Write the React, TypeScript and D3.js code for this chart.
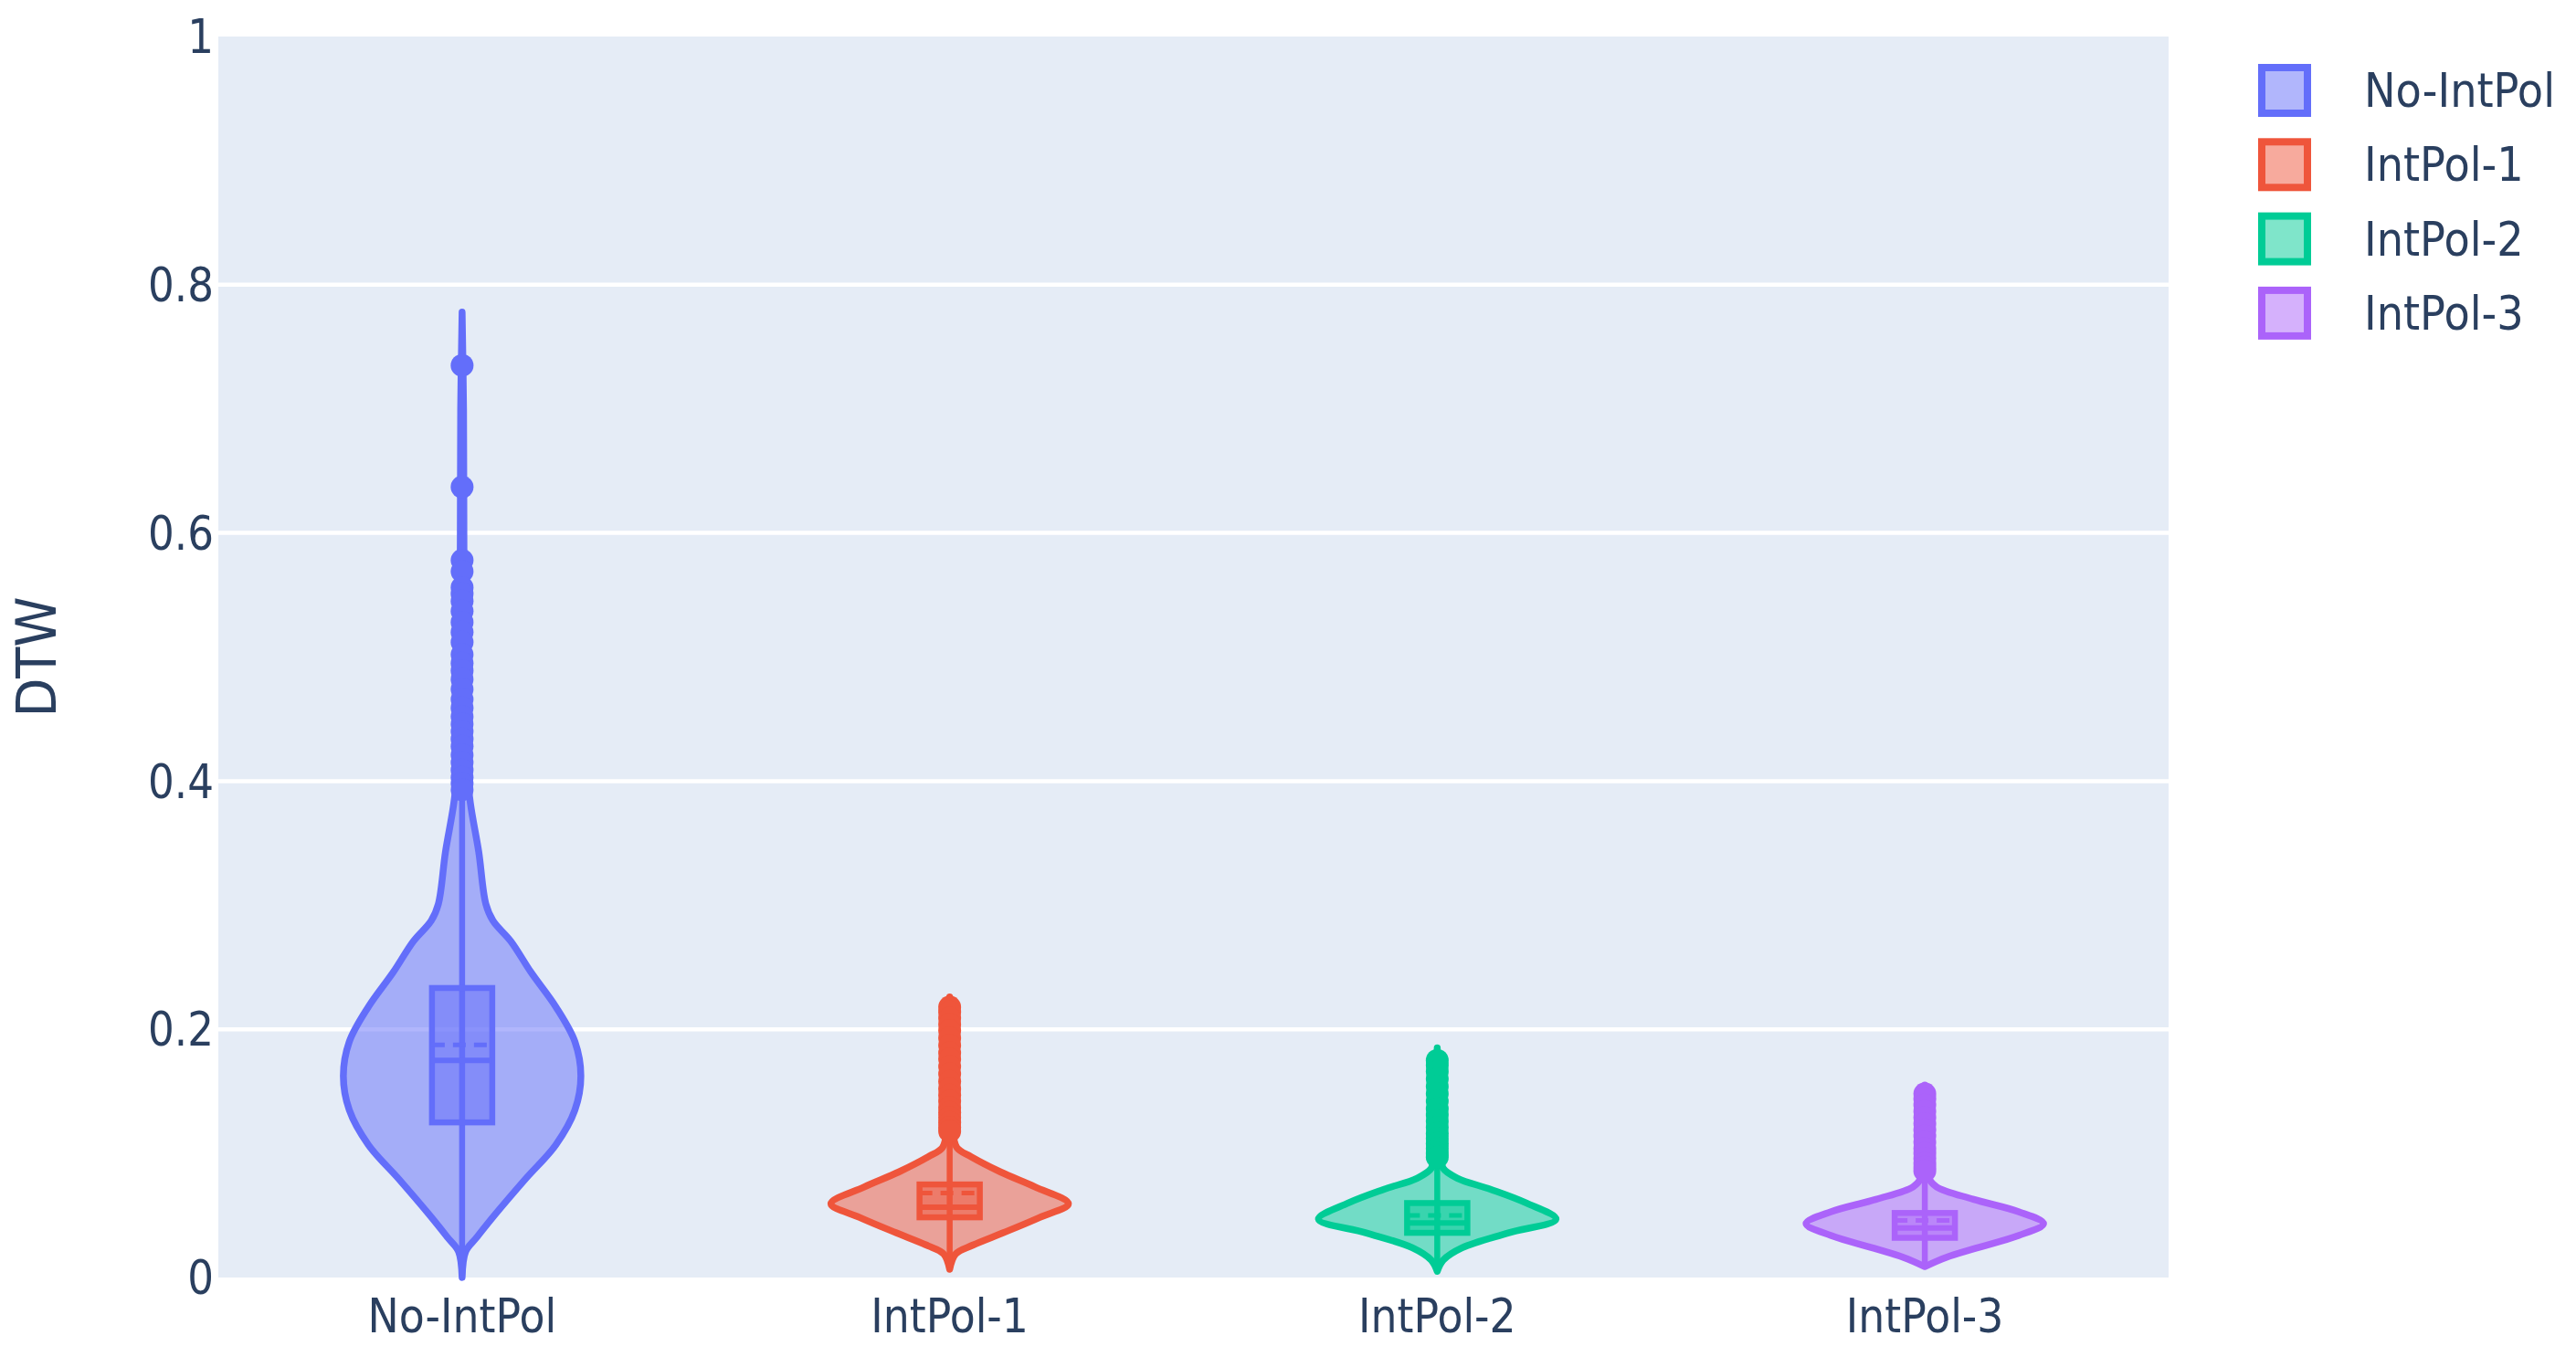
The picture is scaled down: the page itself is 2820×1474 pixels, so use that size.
import React from "react";
import * as d3 from "d3";

const W = 2820;
const H = 1474;

const categories = ["No-IntPol", "IntPol-1", "IntPol-2", "IntPol-3"];
const colors = ["#636efa", "#EF553B", "#00cc96", "#ab63fa"];
const yTicks = [0, 0.2, 0.4, 0.6, 0.8, 1];
const yTickLabels = ["0", "0.2", "0.4", "0.6", "0.8", "1"];

// violin outlines: [value, relative half-width]
const noIntPolProfile: [number, number][] = [
  [0.0, 0.0], [0.021, 0.03], [0.032, 0.12], [0.051, 0.28], [0.079, 0.53], [0.107, 0.79],
  [0.135, 0.95], [0.1625, 1.0], [0.19, 0.95], [0.218, 0.79], [0.246, 0.58], [0.271, 0.41],
  [0.2875, 0.26], [0.301, 0.2], [0.343, 0.14], [0.382, 0.07], [0.42, 0.03], [0.5, 0.02],
  [0.6, 0.015], [0.7, 0.012], [0.778, 0.0],
];
const intPol1Profile: [number, number][] = [
  [0.0066, 0.0], [0.019, 0.05], [0.0263, 0.2], [0.036, 0.45], [0.0485, 0.76], [0.0595, 1.0],
  [0.073, 0.72], [0.085, 0.43], [0.0973, 0.18], [0.1047, 0.06], [0.12, 0.025], [0.17, 0.015],
  [0.226, 0.0],
];
const intPol2Profile: [number, number][] = [
  [0.005, 0.0], [0.014, 0.05], [0.024, 0.21], [0.036, 0.6], [0.047, 1.0], [0.06, 0.75],
  [0.071, 0.45], [0.08, 0.17], [0.088, 0.05], [0.1, 0.025], [0.14, 0.015], [0.185, 0.0],
];
const intPol3Profile: [number, number][] = [
  [0.0088, 0.0], [0.0162, 0.18], [0.0236, 0.43], [0.0338, 0.79], [0.0434, 1.0], [0.053, 0.79],
  [0.063, 0.41], [0.073, 0.1], [0.08, 0.035], [0.1, 0.02], [0.155, 0.0],
];
const profiles = [noIntPolProfile, intPol1Profile, intPol2Profile, intPol3Profile];

const q1s = [0.125, 0.0485, 0.036, 0.032];
const medians = [0.175, 0.0567, 0.044, 0.04];
const means = [0.1875, 0.068, 0.05, 0.046];
const q3s = [0.2333, 0.075, 0.06, 0.052];
const lowerWhiskers = [0.002, 0.008, 0.006, 0.01];
const upperWhiskers = [0.39, 0.114, 0.095, 0.084];

const noIntPolOutliers = [
  0.735, 0.637, 0.578, 0.569, 0.556, 0.551, 0.545, 0.537, 0.528, 0.52, 0.512, 0.502, 0.495,
  0.489, 0.482, 0.474, 0.466, 0.459, 0.452, 0.446, 0.44, 0.434, 0.428, 0.421, 0.415, 0.409,
  0.403, 0.398, 0.393,
];
const intPol1Outliers = [
  0.218, 0.214, 0.209, 0.204, 0.199, 0.193, 0.187, 0.181, 0.176, 0.17, 0.164, 0.158, 0.152,
  0.147, 0.142, 0.137, 0.133, 0.129, 0.125, 0.121, 0.118,
];
const intPol2Outliers = [
  0.175, 0.171, 0.166, 0.16, 0.154, 0.148, 0.142, 0.136, 0.131, 0.126, 0.121, 0.116, 0.112,
  0.108, 0.104, 0.1, 0.097,
];
const intPol3Outliers = [
  0.148, 0.144, 0.139, 0.134, 0.129, 0.124, 0.119, 0.114, 0.109, 0.104, 0.1, 0.096, 0.092,
  0.089, 0.086,
];
const outliers = [noIntPolOutliers, intPol1Outliers, intPol2Outliers, intPol3Outliers];

const TEXT = "#2a3f5f";
const FONT = "'DejaVu Sans', Verdana, sans-serif";

export default function App() {
  const plot = { left: 239, right: 2374, top: 40, bottom: 1399 };
  const y = d3.scaleLinear().domain([0, 1]).range([plot.bottom, plot.top]);
  const x = d3.scaleBand().domain(categories).range([plot.left, plot.right]).padding(0);
  const wScale = d3.scaleLinear().domain([0, 1]).range([0, 130]);
  const boxHalf = 33;
  const lw = 7.5;

  return (
    <svg
      width={W}
      height={H}
      style={{ position: "absolute", left: 0, top: 0, display: "block", background: "#fff" }}
    >
      <rect x={plot.left} y={plot.top} width={plot.right - plot.left} height={plot.bottom - plot.top} fill="#E5ECF6" />
      {yTicks.map((t) =>
        t > 0 && t < 1 ? (
          <line key={"g" + t} x1={plot.left} x2={plot.right} y1={y(t)} y2={y(t)} stroke="#fff" strokeWidth={4.5} />
        ) : null
      )}
      {yTicks.map((t, i) => (
        <text
          key={"yt" + t}
          transform={`translate(${234},${y(t)}) scale(0.87,1)`}
          textAnchor="end"
          dominantBaseline="central"
          fontFamily={FONT}
          fontSize={52}
          fill={TEXT}
        >
          {yTickLabels[i]}
        </text>
      ))}
      <text
        transform={`translate(40,${(plot.top + plot.bottom) / 2}) rotate(-90) scale(0.93,1)`}
        textAnchor="middle"
        dominantBaseline="central"
        fontFamily={FONT}
        fontSize={60}
        fill={TEXT}
      >
        DTW
      </text>
      {categories.map((c, i) => {
        const cx = (x(c) as number) + x.bandwidth() / 2;
        const color = colors[i];
        const area = d3
          .area<[number, number]>()
          .y((d) => y(d[0]))
          .x0((d) => cx - wScale(Math.max(0, d[1])))
          .x1((d) => cx + wScale(Math.max(0, d[1])))
          .curve(d3.curveCatmullRom.alpha(0.5));
        return (
          <g key={c}>
            <path d={area(profiles[i]) || ""} fill={color} fillOpacity={0.5} stroke={color} strokeWidth={lw} strokeLinejoin="round" />
            <line x1={cx} x2={cx} y1={y(lowerWhiskers[i])} y2={y(upperWhiskers[i])} stroke={color} strokeWidth={6.5} />
            <rect
              x={cx - boxHalf}
              width={boxHalf * 2}
              y={y(q3s[i])}
              height={y(q1s[i]) - y(q3s[i])}
              fill={color}
              fillOpacity={0.5}
              stroke={color}
              strokeWidth={6.5}
            />
            <line x1={cx - boxHalf} x2={cx + boxHalf} y1={y(medians[i])} y2={y(medians[i])} stroke={color} strokeWidth={6} />
            <line
              x1={cx - boxHalf}
              x2={cx + boxHalf}
              y1={y(means[i])}
              y2={y(means[i])}
              stroke={color}
              strokeWidth={5}
              strokeDasharray="14,9"
            />
            {outliers[i].map((v, k) => (
              <circle key={k} cx={cx} cy={y(v)} r={12.5} fill={color} />
            ))}
            <text
              transform={`translate(${cx},${1459}) scale(0.88,1)`}
              textAnchor="middle"
              fontFamily={FONT}
              fontSize={52}
              fill={TEXT}
            >
              {c}
            </text>
          </g>
        );
      })}
      {categories.map((c, i) => {
        const cy = 99 + i * 81.3;
        return (
          <g key={"lg" + c}>
            <rect x={2476} y={cy - 25} width={50} height={50} fill={colors[i]} fillOpacity={0.5} stroke={colors[i]} strokeWidth={8} />
            <text
              transform={`translate(2588,${cy}) scale(0.89,1)`}
              dominantBaseline="central"
              fontFamily={FONT}
              fontSize={52}
              fill={TEXT}
            >
              {c}
            </text>
          </g>
        );
      })}
    </svg>
  );
}
